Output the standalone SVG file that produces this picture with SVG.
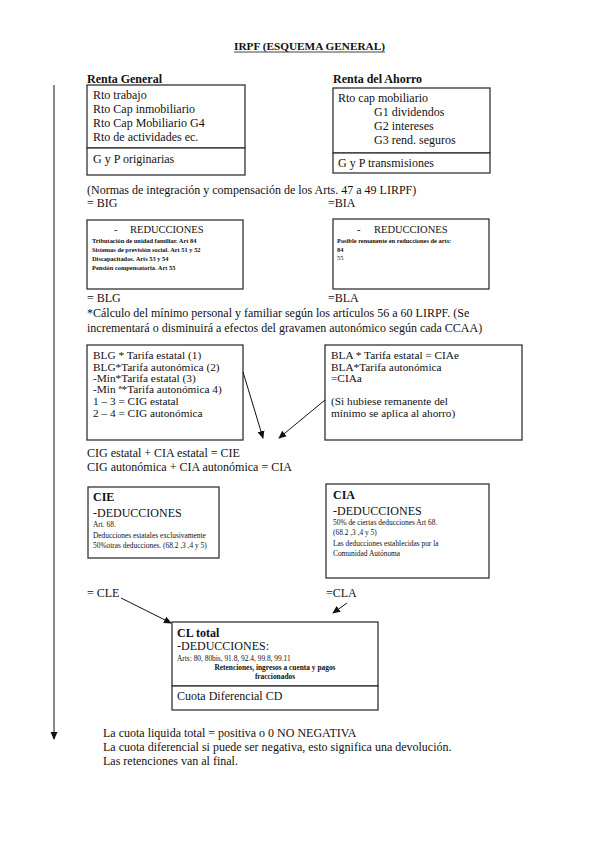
<svg xmlns="http://www.w3.org/2000/svg" width="599" height="848" viewBox="0 0 599 848">
<defs>
<marker id="ah" markerWidth="8" markerHeight="8" refX="7" refY="4" orient="auto" markerUnits="userSpaceOnUse">
<path d="M0,0.5 L8,4 L0,7.5 z" fill="#111"/>
</marker>
</defs>
<style>
text{font-family:"Liberation Serif","Times New Roman",serif;fill:#111}
.t{font-size:12px}
.m{font-size:11.3px}
.b{font-weight:bold}
.s{font-size:7.4px}
.xs{font-size:6.4px}
.box{fill:#fff;stroke:#333;stroke-width:1.3}
.con{stroke:#111;stroke-width:1;fill:none}
</style>
<rect width="599" height="848" fill="#fff"/>
<g id="title">
<text x="234" y="50" class="b" font-size="10" textLength="151" lengthAdjust="spacingAndGlyphs">IRPF (ESQUEMA GENERAL)</text>
<line x1="234" y1="52" x2="385" y2="52" stroke="#111" stroke-width="0.8"/>
</g>
<g id="renta-general">
<text x="87" y="83" class="t b">Renta General</text>
<rect class="box" x="87" y="85" width="158" height="63"/>
<rect class="box" x="87" y="148" width="158" height="27"/>
<text x="93" y="99" class="t">Rto trabajo</text>
<text x="93" y="113" class="t">Rto Cap inmobiliario</text>
<text x="93" y="127" class="t">Rto Cap Mobiliario G4</text>
<text x="93" y="141" class="t">Rto de actividades ec.</text>
<text x="93" y="163" class="t">G y P originarias</text>
</g>
<g id="renta-ahorro">
<text x="333" y="83" class="t b">Renta del Ahorro</text>
<rect class="box" x="333" y="88" width="157" height="65"/>
<rect class="box" x="333" y="153" width="157" height="20"/>
<text x="338" y="102" class="t">Rto cap mobiliario</text>
<text x="374" y="116" class="t">G1 dividendos</text>
<text x="374" y="130" class="t">G2 intereses</text>
<text x="374" y="144" class="t">G3 rend. seguros</text>
<text x="338" y="167" class="t">G y P transmisiones</text>
</g>
<g id="normas">
<text x="87" y="194" class="t">(Normas de integración y compensación de los Arts. 47 a 49 LIRPF)</text>
<text x="87" y="207" class="t">= BIG</text>
<text x="328" y="207" class="t">=BIA</text>
</g>
<g id="reducciones-general">
<rect class="box" x="87" y="220" width="156" height="69"/>
<text x="114" y="233" font-size="10.5">-</text>
<text x="130" y="233" font-size="10.5">REDUCCIONES</text>
<text x="92" y="243" class="xs b">Tributación de unidad familiar. Art 84</text>
<text x="92" y="252" class="xs b">Sistemas de previsión social. Art 51 y 52</text>
<text x="92" y="261" class="xs b">Discapacitados. Arts 53 y 54</text>
<text x="92" y="270" class="xs b">Pensión compensatoria. Art 55</text>
</g>
<g id="reducciones-ahorro">
<rect class="box" x="333" y="219" width="156" height="70"/>
<text x="357" y="233" font-size="10.5">-</text>
<text x="374" y="233" font-size="10.5">REDUCCIONES</text>
<text x="337" y="243" class="xs b">Posible remanente en reducciones de arts:</text>
<text x="337" y="252" class="xs b">84</text>
<text x="337" y="260" class="xs">55</text>
</g>
<g id="minimo">
<text x="87" y="302" class="t">= BLG</text>
<text x="328" y="302" class="t">=BLA</text>
<text x="87" y="317" class="t">*Cálculo del mínimo personal y familiar según los artículos 56 a 60 LIRPF. (Se</text>
<text x="87" y="332" class="t">incrementará o disminuirá a efectos del gravamen autonómico según cada CCAA)</text>
</g>
<g id="tarifa-general">
<rect class="box" x="87" y="345" width="156" height="95"/>
<text x="93" y="359" class="m">BLG * Tarifa estatal (1)</text>
<text x="93" y="371" class="m">BLG*Tarifa autonómica (2)</text>
<text x="93" y="382" class="m">-Min*Tarifa estatal (3)</text>
<text x="93" y="393" class="m">-Min ª*Tarifa autonómica 4)</text>
<text x="93" y="405" class="m">1 – 3 = CIG estatal</text>
<text x="93" y="417" class="m">2 – 4 = CIG autonómica</text>
</g>
<g id="tarifa-ahorro">
<rect class="box" x="325" y="345" width="197" height="95"/>
<text x="331" y="359" class="m">BLA * Tarifa estatal = CIAe</text>
<text x="331" y="371" class="m">BLA*Tarifa autonómica</text>
<text x="331" y="382" class="m">=CIAa</text>
<text x="331" y="405" class="m">(Si hubiese remanente del</text>
<text x="331" y="417" class="m">mínimo se aplica al ahorro)</text>
</g>
<g id="cuotas">
<text x="87" y="457" class="t">CIG estatal + CIA estatal = CIE</text>
<text x="87" y="471" class="t">CIG autonómica + CIA autonómica = CIA</text>
</g>
<g id="cie">
<rect class="box" x="88" y="487" width="131" height="71"/>
<text x="93" y="501" class="t b">CIE</text>
<text x="93" y="517" class="t">-DEDUCCIONES</text>
<text x="93" y="527" class="s">Art. 68.</text>
<text x="93" y="538" class="s">Deducciones estatales exclusivamente</text>
<text x="93" y="548" class="s">50%otras deducciones. (68.2 ,3 ,4 y 5)</text>
<text x="87" y="597" class="t">= CLE</text>
</g>
<g id="cia">
<rect class="box" x="326" y="484" width="163" height="94"/>
<text x="333" y="499" class="t b">CIA</text>
<text x="333" y="515" class="t">-DEDUCCIONES</text>
<text x="333" y="525" class="s">50% de ciertas deducciones Art 68.</text>
<text x="333" y="535" class="s">(68.2 ,3 ,4 y 5)</text>
<text x="333" y="546" class="s">Las deducciones establecidas por la</text>
<text x="333" y="556" class="s">Comunidad Autónoma</text>
<text x="326" y="597" class="t">=CLA</text>
</g>
<g id="cl-total">
<rect class="box" x="172" y="622" width="206" height="64"/>
<rect class="box" x="172" y="686" width="206" height="24"/>
<text x="177" y="637" class="t b">CL total</text>
<text x="177" y="650" class="t">-DEDUCCIONES:</text>
<text x="177" y="661" class="s">Arts: 80, 80bis, 91.8, 92.4, 99.8, 99.11</text>
<text x="275" y="670" class="s b" text-anchor="middle">Retenciones, ingresos a cuenta y pagos</text>
<text x="275" y="679" class="s b" text-anchor="middle">fraccionados</text>
<text x="177" y="700" class="t">Cuota Diferencial CD</text>
</g>
<g id="notas">
<text x="103" y="737" class="t">La cuota liquida total = positiva o 0 NO NEGATIVA</text>
<text x="103" y="751" class="t">La cuota diferencial si puede ser negativa, esto significa una devolución.</text>
<text x="103" y="765" class="t">Las retenciones van al final.</text>
</g>
<g id="connectors">
<line class="con" x1="54" y1="85" x2="54" y2="739" marker-end="url(#ah)"/>
<line class="con" x1="243" y1="372" x2="263" y2="438" marker-end="url(#ah)"/>
<line class="con" x1="325" y1="400" x2="279" y2="438" marker-end="url(#ah)"/>
<line class="con" x1="121" y1="598" x2="171" y2="623" marker-end="url(#ah)"/>
<line class="con" x1="347" y1="603" x2="333" y2="613" marker-end="url(#ah)"/>
</g>
</svg>
